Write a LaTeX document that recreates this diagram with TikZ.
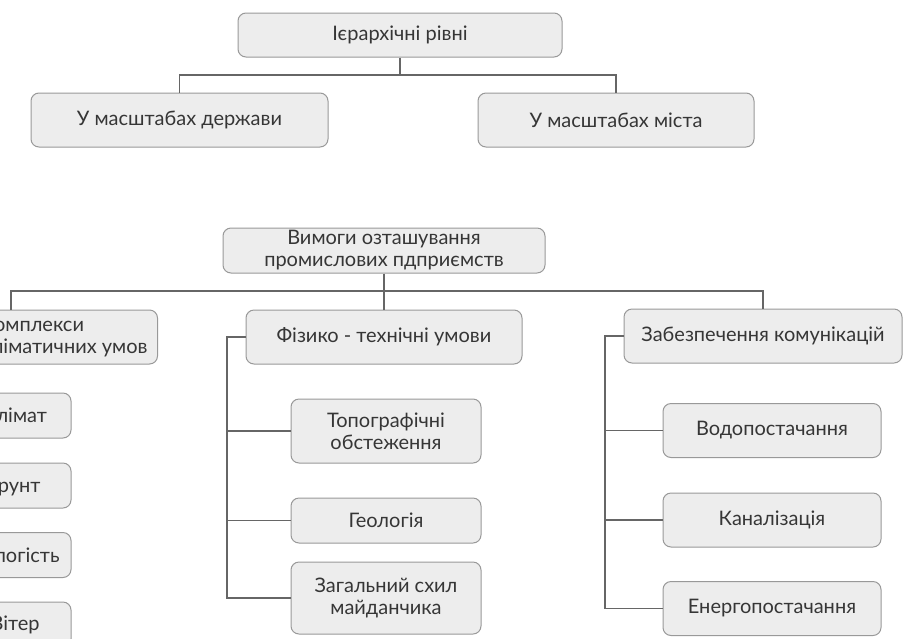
\documentclass[tikz,border=0pt]{standalone}
\usepackage{fontspec}
\setmainfont{Lato}
\definecolor{boxfill}{HTML}{EDEDED}
\definecolor{boxline}{HTML}{999999}
\definecolor{linkcol}{HTML}{666666}
\definecolor{txt}{HTML}{363636}
\tikzset{
  box/.style={draw=boxline, line width=0.5pt, fill=boxfill, rounded corners=4pt,
    text=txt, align=center, inner sep=0pt, font=\fontsize{10}{11}\selectfont},
  link/.style={draw=linkcol, line width=0.75pt}
}
\begin{document}
\begin{tikzpicture}[x=0.5pt, y=-0.5pt]
    \useasboundingbox (0,0) rectangle (921,638);
    \clip (0,0) rectangle (921,638);
    \fill[white] (0,0) rectangle (921,638);

    % top level
    \node (levels) at (400, 35)  [box, minimum width=162pt, minimum height=22pt] {Ієрархічні рівні};
    \node (state)  at (179.5, 120) [box, minimum width=148.5pt, minimum height=27pt] {У масштабах держави};
    \node (city)   at (616, 120) [box, minimum width=138pt, minimum height=27pt] {У масштабах міста};
    \coordinate (lj) at (400, 75);
    \draw[link] (levels.south) -- (lj);
    \draw[link] (state.north) |- (lj) -| (city.north);

    % requirements
    \node (req)   at (384, 250.5) [box, minimum width=161pt, minimum height=22.5pt] {Вимоги озташування\\промислових пдприємств};
    \node (kompl) at (158, 337) [box, anchor=east, align=left, inner xsep=5pt, minimum height=27pt] {Комплекси\\кліматичних умов};
    \node (phys)  at (384, 337) [box, minimum width=138pt, minimum height=27pt] {Фізико - технічні умови};
    \node (comm)  at (763, 336) [box, minimum width=139pt, minimum height=27pt] {Забезпечення комунікацій};

    \coordinate (kdrop) at (11, 291);
    \coordinate (cdrop) at (763, 291);
    \draw[link] (req.south) -- (phys.north);
    \draw[link] (kdrop |- kompl.north) -- (kdrop) -- (cdrop) -- (comm.north);

    % climate
    \node (clim)  at (15, 415.5) [box, minimum width=56pt, minimum height=22.5pt] {Клімат};
    \node (soil)  at (15, 485.5) [box, minimum width=56pt, minimum height=22.5pt] {Ґрунт};
    \node (moist) at (15, 555)   [box, minimum width=56pt, minimum height=22.5pt] {Вологість};
    \node (wind)  at (15, 624.5) [box, minimum width=56pt, minimum height=22.5pt] {Вітер};
    \coordinate (kbr) at (-60, 337);
    \draw[link] (kompl.west) -- (kbr) |- (wind.west);
    \draw[link] (kbr |- clim.west) -- (clim.west);
    \draw[link] (kbr |- soil.west) -- (soil.west);
    \draw[link] (kbr |- moist.west) -- (moist.west);

    % physical
    \node (topo)  at (386, 431)   [box, minimum width=95pt, minimum height=32pt] {Топографічні\\обстеження};
    \node (geol)  at (386, 520.5) [box, minimum width=95pt, minimum height=22.5pt] {Геологія};
    \node (slope) at (386, 598)   [box, minimum width=95pt, minimum height=36pt] {Загальний схил\\майданчика};
    \coordinate (pbr) at (227, 337);
    \draw[link] (phys.west) -- (pbr) |- (slope.west);
    \draw[link] (pbr |- topo.west) -- (topo.west);
    \draw[link] (pbr |- geol.west) -- (geol.west);

    % communications
    \node (water)  at (772, 430.5) [box, minimum width=109pt, minimum height=27pt] {Водопостачання};
    \node (sewer)  at (772, 520)   [box, minimum width=109pt, minimum height=27pt] {Каналізація};
    \node (energy) at (772, 608.5) [box, minimum width=109pt, minimum height=27pt] {Енергопостачання};
    \coordinate (cbr) at (605, 336);
    \draw[link] (comm.west) -- (cbr) |- (energy.west);
    \draw[link] (cbr |- water.west) -- (water.west);
    \draw[link] (cbr |- sewer.west) -- (sewer.west);
  \end{tikzpicture}
\end{document}
